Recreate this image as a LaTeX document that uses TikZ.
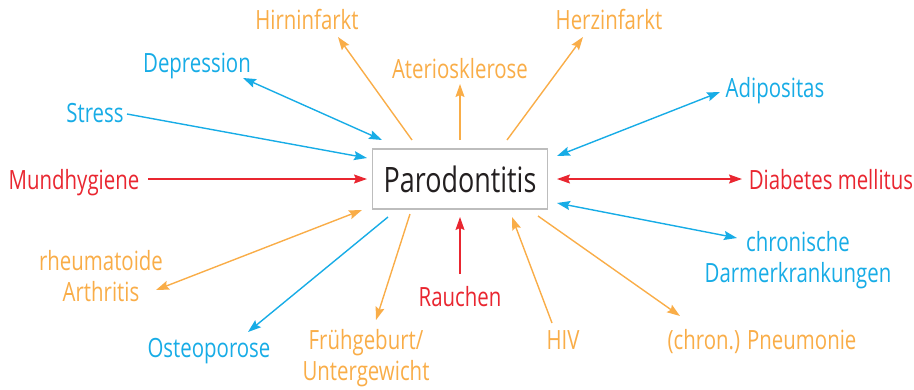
\documentclass[tikz,border=0pt]{standalone}
\usepackage{fontspec}
\setmainfont{Open Sans}[FakeStretch=0.77]
\usetikzlibrary{arrows.meta}
\definecolor{org}{HTML}{F9AD48}
\definecolor{blu}{HTML}{17ACE6}
\definecolor{rd}{HTML}{E92630}
\definecolor{txt}{HTML}{231F20}
\definecolor{boxc}{HTML}{BDBDBD}
\begin{document}
\begin{tikzpicture}[x=1pt,y=-1pt,
  lbl/.style={inner sep=0pt, anchor=base, font=\fontsize{26.5}{31}\selectfont, align=center},
  con/.style={line width=1.4pt, -{Stealth[length=13pt,width=9pt,inset=2pt]}},
  dcon/.style={line width=1.4pt, {Stealth[length=13pt,width=9pt,inset=2pt]}-{Stealth[length=13pt,width=9pt,inset=2pt]}},
]
\useasboundingbox (0,0) rectangle (914,389);

% central box
\node[draw=boxc, line width=1.4pt, minimum width=175pt, minimum height=60pt, inner sep=0pt,
      text=txt, font=\fontsize{35}{40}\selectfont] (box) at (460,179) {Parodontitis};

% labels
\node[lbl, text=org] (hirn) at (307,29) {Hirninfarkt};
\node[lbl, text=org] (ater) at (460,78) {Ateriosklerose};
\node[lbl, text=org] (herz) at (609,29) {Herzinfarkt};
\node[lbl, text=blu] (depr) at (197,72) {Depression};
\node[lbl, text=blu] (stress) at (95,122) {Stress};
\node[lbl, text=rd] (mund) at (74,189) {Mundhygiene};
\node[lbl, text=blu] (adip) at (775,97) {Adipositas};
\node[lbl, text=rd] (diab) at (831,189) {Diabetes mellitus};
\node[lbl, text=blu] (chron) at (798,282) {chronische\\Darmerkrankungen};
\node[lbl, text=org] (rheum) at (101,301) {rheumatoide\\Arthritis};
\node[lbl, text=blu] (osteo) at (209,357) {Osteoporose};
\node[lbl, text=org] (frueh) at (366,380) {Frühgeburt/\\Untergewicht};
\node[lbl, text=rd] (rauch) at (460,306) {Rauchen};
\node[lbl, text=org] (hiv) at (563,349) {HIV};
\node[lbl, text=org] (pneu) at (762,349) {(chron.) Pneumonie};

% connector ends
\coordinate (hirnB) at (412,140); \coordinate (hirnL) at (338,37);
\coordinate (aterB) at (460,140); \coordinate (aterL) at (460,84);
\coordinate (herzB) at (507,140); \coordinate (herzL) at (583,37);
\coordinate (deprB) at (382,140); \coordinate (deprL) at (243,78);
\coordinate (stressB) at (367,158); \coordinate (stressL) at (127,114);
\coordinate (mundB) at (367,179); \coordinate (mundL) at (148,179);
\coordinate (adipB) at (557,156); \coordinate (adipL) at (720,92);
\coordinate (diabB) at (557,179); \coordinate (diabL) at (742,179);
\coordinate (chronB) at (557,203); \coordinate (chronL) at (737,238);
\coordinate (rheumB) at (362,210); \coordinate (rheumL) at (156,290);
\coordinate (osteoB) at (388,217); \coordinate (osteoL) at (248,332);
\coordinate (fruehB) at (410,214); \coordinate (fruehL) at (376,320);
\coordinate (rauchB) at (460,217); \coordinate (rauchL) at (460,274);
\coordinate (hivB) at (512,217); \coordinate (hivL) at (552,323);
\coordinate (pneuB) at (538,216); \coordinate (pneuL) at (680,316);

% connectors
\draw[con, org] (hirnB) -- (hirnL);
\draw[con, org] (aterB) -- (aterL);
\draw[con, org] (herzB) -- (herzL);
\draw[dcon, blu] (deprL) -- (deprB);
\draw[con, blu] (stressL) -- (stressB);
\draw[con, rd] (mundL) -- (mundB);
\draw[dcon, blu] (adipL) -- (adipB);
\draw[dcon, rd] (diabB) -- (diabL);
\draw[dcon, blu] (chronB) -- (chronL);
\draw[dcon, org] (rheumB) -- (rheumL);
\draw[con, blu] (osteoB) -- (osteoL);
\draw[con, org] (fruehB) -- (fruehL);
\draw[con, rd] (rauchL) -- (rauchB);
\draw[con, org] (hivL) -- (hivB);
\draw[con, org] (pneuB) -- (pneuL);
\end{tikzpicture}
\end{document}
